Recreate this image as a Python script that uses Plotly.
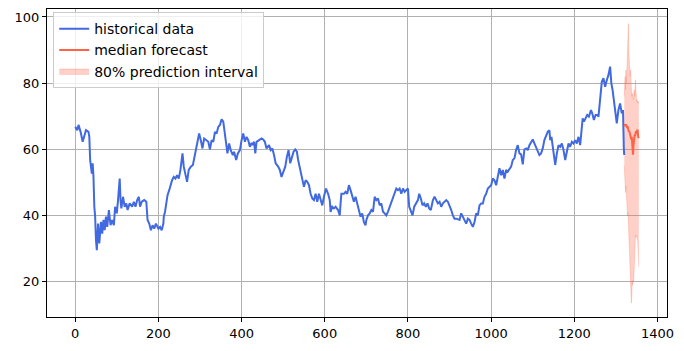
import plotly.graph_objects as go

# ---------------- data ----------------
hist_x = [0, 5, 8, 13, 18, 22, 26, 32, 34, 36, 40, 42, 44, 46, 48, 50, 52, 55, 58, 62,
          65, 68, 71, 74, 77, 81, 85, 89, 93, 96, 100, 103, 107, 109, 111, 115, 119, 123, 126, 131,
          137, 141, 145, 149, 153, 156, 160, 166, 171, 174, 178, 182, 186, 190, 194, 200, 204, 208, 212, 213,
          216, 219, 222, 226, 229, 233, 237, 241, 245, 249, 253, 258, 261, 265, 269, 273, 278, 283, 286, 290,
          294, 298, 302, 306, 310, 316, 320, 324, 328, 332, 336, 340, 344, 348, 352, 356, 360, 364, 366, 370,
          374, 379, 382, 387, 391, 396, 400, 404, 408, 412, 416, 420, 424, 426, 430, 433, 436, 442, 448, 452,
          456, 460, 466, 470, 474, 478, 482, 488, 492, 496, 500, 505, 509, 513, 517, 521, 525, 529, 533, 536,
          539, 543, 547, 550, 554, 558, 562, 566, 570, 574, 578, 582, 586, 590, 594, 598, 603, 608, 612, 614,
          618, 622, 626, 632, 636, 638, 640, 646, 650, 654, 658, 662, 666, 670, 674, 678, 682, 686, 690, 694,
          698, 700, 704, 708, 712, 716, 720, 724, 728, 732, 736, 740, 744, 748, 752, 756, 760, 764, 768, 772,
          776, 780, 784, 788, 792, 796, 800, 803, 807, 811, 815, 819, 824, 827, 831, 835, 839, 843, 847, 851,
          855, 860, 864, 868, 872, 876, 880, 884, 888, 892, 896, 900, 904, 908, 912, 916, 920, 924, 928, 932,
          936, 940, 944, 948, 952, 956, 960, 964, 968, 972, 976, 980, 984, 988, 992, 996, 1000, 1004, 1008, 1012,
          1016, 1020, 1024, 1028, 1032, 1036, 1040, 1044, 1048, 1052, 1056, 1060, 1064, 1068, 1072, 1076, 1080, 1085, 1088, 1092,
          1096, 1100, 1104, 1108, 1112, 1116, 1120, 1124, 1128, 1132, 1136, 1140, 1142, 1145, 1148, 1151, 1154, 1158, 1162, 1166,
          1170, 1174, 1178, 1182, 1186, 1190, 1194, 1198, 1202, 1206, 1210, 1214, 1218, 1220, 1223, 1227, 1231, 1235, 1240, 1243,
          1247, 1251, 1255, 1258, 1262, 1266, 1270, 1274, 1278, 1282, 1286, 1289, 1292, 1296, 1299, 1302, 1306, 1310, 1314, 1317,
          1319, 1320]
hist_y = [66.8, 65.8, 67.4, 65.3, 62.3, 64.3, 65.8, 65.3, 63.8, 56.8, 52.7, 55.8, 51.7, 42.7, 39.7, 32.6, 29.6, 37.6, 31.6, 38.1,
          34.6, 38.7, 35.6, 39.7, 36.6, 41.7, 37.1, 38.7, 37.1, 42.7, 40.7, 44.7, 51.2, 44.7, 42.2, 45.7, 42.7, 43.7, 41.7, 43.7,
          42.7, 44.2, 42.7, 44.7, 45.7, 42.7, 44.2, 44.7, 44.2, 38.7, 37.6, 35.6, 37.1, 36.1, 37.6, 36.1, 36.6, 35.6, 37.6, 39.7,
          41.2, 43.7, 46.2, 47.7, 49.2, 50.7, 51.7, 51.2, 52.2, 51.2, 53.8, 58.8, 54.8, 52.2, 50.2, 53.8, 54.8, 55.3, 57.3, 60.3,
          62.3, 64.8, 62.8, 60.3, 63.3, 62.8, 62.3, 60.0, 62.8, 62.3, 65.3, 64.8, 66.8, 67.4, 69.1, 68.4, 65.3, 60.8, 58.8, 61.8,
          59.8, 58.3, 59.3, 56.8, 58.8, 59.8, 62.8, 64.8, 62.3, 63.8, 62.8, 60.8, 62.0, 61.3, 62.3, 58.8, 62.3, 62.8, 63.3, 63.0,
          62.3, 60.3, 61.3, 59.8, 60.3, 58.3, 55.8, 54.8, 53.8, 51.7, 53.3, 54.8, 57.8, 59.8, 55.8, 57.8, 59.3, 60.0, 59.3, 56.8,
          54.8, 52.7, 50.2, 48.7, 50.7, 50.2, 49.2, 46.6, 45.2, 44.7, 46.6, 44.2, 46.6, 44.7, 43.1, 45.7, 48.2, 46.6, 44.7, 41.1,
          42.7, 42.2, 42.7, 41.7, 40.1, 43.7, 46.6, 46.6, 47.2, 46.6, 49.2, 47.7, 45.7, 44.2, 45.7, 43.7, 42.2, 39.7, 40.7, 38.1,
          37.1, 38.7, 40.1, 40.7, 41.7, 41.2, 45.7, 44.7, 45.2, 43.1, 43.7, 41.2, 40.7, 40.1, 41.2, 42.7, 44.2, 45.7, 47.2, 48.2,
          47.7, 48.2, 46.6, 48.2, 47.2, 47.7, 48.2, 42.7, 41.2, 40.1, 42.7, 43.7, 44.7, 46.6, 45.2, 43.1, 43.7, 42.7, 43.7, 42.2,
          41.7, 44.7, 45.7, 44.7, 43.7, 44.2, 42.7, 43.7, 44.2, 44.7, 44.2, 43.1, 41.7, 40.1, 39.1, 39.1, 38.9, 38.7, 40.7, 39.7,
          38.7, 37.6, 39.1, 38.7, 37.6, 36.6, 38.1, 40.7, 40.1, 43.1, 43.7, 43.7, 45.7, 46.6, 48.2, 48.7, 49.2, 51.2, 50.7, 49.2,
          51.7, 54.3, 52.2, 53.8, 51.2, 53.8, 53.3, 54.3, 54.8, 56.8, 57.3, 59.8, 61.3, 58.8, 58.5, 55.5, 60.0, 60.3, 59.8, 61.3,
          62.3, 63.0, 61.8, 60.8, 59.8, 58.3, 58.8, 60.3, 62.8, 64.3, 65.3, 65.8, 62.8, 63.8, 60.8, 57.8, 55.3, 58.8, 61.3, 60.8,
          61.8, 59.8, 56.8, 59.3, 61.8, 60.8, 62.3, 61.8, 62.8, 61.8, 63.8, 61.3, 66.8, 69.4, 68.4, 69.4, 70.4, 69.9, 71.9, 70.9,
          68.9, 70.4, 70.4, 69.9, 74.4, 80.4, 81.5, 78.9, 80.9, 82.5, 85.0, 79.9, 77.9, 73.9, 69.4, 67.9, 71.9, 73.9, 70.9, 71.9,
          60.0, 58.3]

fc_x = list(range(1320, 1356))
fc_median = [67.4, 67.3, 67.6, 67.0, 67.6, 66.8, 67.2, 66.5, 67.0, 66.2,
             66.0, 65.3, 65.6, 64.8, 64.0, 64.5, 63.5, 63.0, 63.8, 62.5,
             60.5, 58.4, 61.0, 62.5, 63.0, 64.5, 64.0, 65.0, 65.5, 64.8,
             65.8, 65.2, 66.0, 64.5, 63.5, 63.8]
fc_upper = [76, 79, 82, 78, 84, 80, 83, 88, 92, 97,
            98, 90, 84, 86, 82, 84, 80, 78, 76, 77,
            75.5, 76, 75, 76.5, 78, 76, 79, 81, 78, 76,
            74.5, 75, 74, 74.5, 74, 74.5]
fc_lower = [55, 51, 50, 47, 49, 45, 43, 44, 40, 41,
            38, 34, 30, 27, 22, 19, 16, 13.6, 15, 20,
            19, 20.5, 20, 21, 24, 30, 33, 34, 33.5, 34,
            34, 33, 33, 30, 26, 24.5]

x_ticks = [0, 200, 400, 600, 800, 1000, 1200, 1400]
y_ticks = [20, 40, 60, 80, 100]

# ---------------- figure ----------------
BLUE = "#4169E1"
RED = "#FF6347"
BAND = "rgba(255,99,71,0.3)"

fig = go.Figure()

fig.add_trace(go.Scatter(x=fc_x, y=fc_upper, mode="lines", line=dict(width=0.8, color=BAND),
                         showlegend=False, hoverinfo="skip"))
fig.add_trace(go.Scatter(x=fc_x, y=fc_lower, mode="lines", line=dict(width=0.8, color=BAND),
                         fill="tonexty", fillcolor=BAND, name="80% prediction interval",
                         legendrank=3))
fig.add_trace(go.Scatter(x=hist_x, y=hist_y, mode="lines", line=dict(width=2, color=BLUE),
                         name="historical data", legendrank=1))
fig.add_trace(go.Scatter(x=fc_x, y=fc_median, mode="lines", line=dict(width=2, color=RED),
                         name="median forecast", legendrank=2))

axis_common = dict(
    showgrid=True, gridcolor="#b0b0b0", gridwidth=1,
    showline=True, linecolor="black", linewidth=1, mirror=True,
    ticks="outside", ticklen=4, tickcolor="black", tickwidth=1,
    zeroline=False, tickfont=dict(family="DejaVu Sans", size=13, color="black"),
)

fig.update_xaxes(range=[-67.75, 1422.75], tickvals=x_ticks, **axis_common)
fig.update_yaxes(range=[9.4, 102.4], tickvals=y_ticks, **axis_common)

fig.update_layout(
    width=684, height=351,
    margin=dict(l=47, r=17, t=9, b=34),
    paper_bgcolor="white", plot_bgcolor="white",
    font=dict(family="DejaVu Sans", size=13, color="black"),
    legend=dict(x=0.01, y=0.99, xanchor="left", yanchor="top", traceorder="normal",
                bgcolor="rgba(255,255,255,0.8)", bordercolor="#cccccc", borderwidth=1,
                font=dict(family="DejaVu Sans", size=14), tracegroupgap=0),
    showlegend=True,
)

fig.write_html("out.html",
               config={"displayModeBar": False},
               post_script="document.body.style.margin='0px';document.body.style.overflow='hidden';")
